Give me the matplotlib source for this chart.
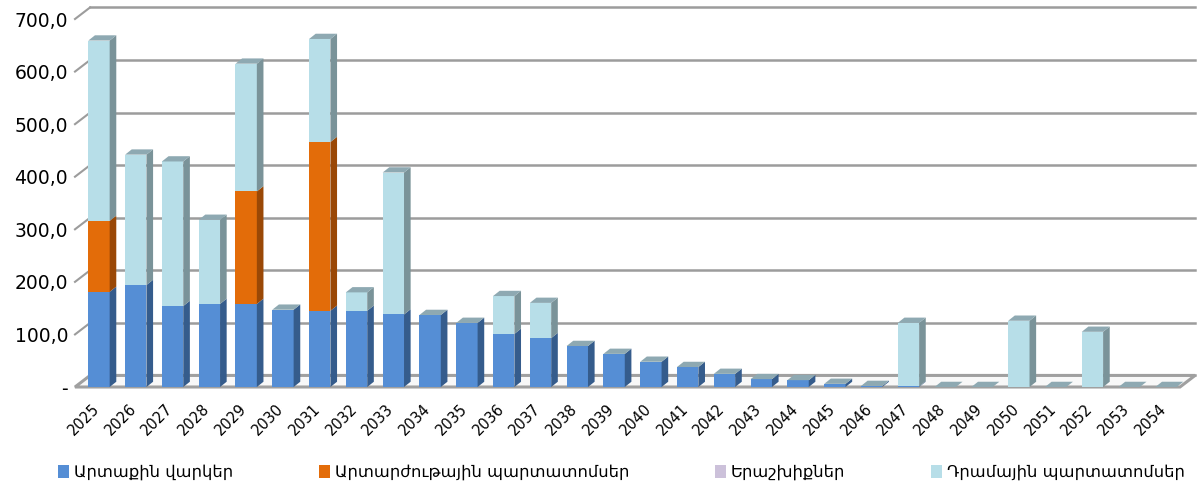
import numpy as np
import matplotlib.pyplot as plt
import matplotlib.transforms as mtransforms
from matplotlib.patches import Polygon, Patch

# Tvyalner (mln.) -- kardacvac nkaric
tariner = [str(t) for t in range(2025, 2055)]
artaqin_varker = [181, 194, 154, 158, 158, 147, 145, 145, 138, 137,
                  122, 101, 93, 78, 63, 48, 38, 25, 15, 13,
                  6, 2, 1, 0, 0, 0, 0, 0, 0, 0]
artarzhutayin = [135, 0, 0, 0, 214, 0, 321, 0, 0, 0,
                 0, 0, 0, 0, 0, 0, 0, 0, 0, 0,
                 0, 0, 0, 0, 0, 0, 0, 0, 0, 0]
erashkhiqner = [0] * 30
dramayin = [343, 248, 275, 160, 243, 0, 196, 35, 270, 0,
            0, 72, 67, 0, 0, 0, 0, 0, 0, 0,
            0, 0, 121, 0, 0, 126, 0, 105, 0, 0]

anunner = ["Արտաքին վարկեր", "Արտարժութային պարտատոմսեր",
           "Երաշխիքներ", "Դրամային պարտատոմսեր"]
shark = [artaqin_varker, artarzhutayin, erashkhiqner, dramayin]
guyn_dem = ["#558ED5", "#E36C09", "#CCC1DA", "#B7DEE8"]
guyn_kox = ["#355C8C", "#9A4806", "#8E86A0", "#7A9399"]
guyn_verev = "#8EA9B2"

plt.rcParams['font.family'] = ['DejaVu Sans']

fig = plt.figure(figsize=(12, 4.83), dpi=100)
ax = fig.add_axes([75 / 1200, 96 / 483, 1105 / 1200, 368 / 483])

x = np.arange(len(tariner))
w = 0.58
dx, dy = 0.18, 10          # syuneri khorutyun
wx, wy = 0.41, 22          # patic khorutyun
xmin, xmax = -0.652, 29.38
ax.set_xlim(xmin, xmax)
ax.set_ylim(0, 700)

# hetevi pat + dzakh ankyunagcer
for v in range(0, 701, 100):
    ax.plot([xmin + wx, xmax + wx], [v + wy, v + wy], color="#9C9C9C",
            lw=1.8, clip_on=False, zorder=1)
    if v > 0:
        ax.plot([xmin, xmin + wx], [v, v + wy], color="#9C9C9C",
                lw=1.5, clip_on=False, zorder=1)

# hatak
floor = Polygon([(xmin, 0), (xmax, 0), (xmax + wx, wy), (xmin + wx, wy)],
                closed=True, facecolor="#F8F8F8", edgecolor="#A0A0A0",
                lw=2.2, clip_on=False, zorder=1.5)
ax.add_patch(floor)

bottom = np.zeros(len(x))
for vals, fc, sc in zip(shark, guyn_dem, guyn_kox):
    vals = np.array(vals, dtype=float)
    ax.bar(x, vals, w, bottom=bottom, color=fc, zorder=3, clip_on=False)
    for xi, b, h in zip(x, bottom, vals):
        if h <= 0:
            continue
        r = xi + w / 2
        ax.add_patch(Polygon([(r, b), (r + dx, b + dy), (r + dx, b + h + dy), (r, b + h)],
                             closed=True, facecolor=sc, edgecolor="none",
                             zorder=3, clip_on=False))
    bottom = bottom + vals

# verevi nister
for xi, t in zip(x, bottom):
    l, r = xi - w / 2, xi + w / 2
    ax.add_patch(Polygon([(l, t), (r, t), (r + dx, t + dy), (l + dx, t + dy)],
                         closed=True, facecolor=guyn_verev, edgecolor="none",
                         zorder=3.5, clip_on=False))

for s in ax.spines.values():
    s.set_visible(False)

ax.set_yticks(range(0, 701, 100))
ax.set_yticklabels(["-"] + [f"{v},0" for v in range(100, 701, 100)], fontsize=13.5)
ax.tick_params(axis="y", length=0, pad=5)
ax.set_xticks(x)
ax.set_xticklabels(tariner, rotation=45, ha="right", va="center",
                   rotation_mode="anchor", fontsize=10.5)
ax.tick_params(axis="x", length=0, pad=14)
shift = mtransforms.ScaledTranslation(-2 / 100, 0, fig.dpi_scale_trans)
for lbl in ax.get_xticklabels():
    lbl.set_transform(lbl.get_transform() + shift)

handles = [Patch(facecolor=c, edgecolor="none") for c in guyn_dem]
fig.legend(handles, anunner, loc="lower left", bbox_to_anchor=(0.036, -0.025),
           ncol=4, frameon=False, fontsize=11.8, columnspacing=5.2,
           handlelength=0.7, handleheight=0.8, handletextpad=0.3)

fig.savefig("out.png", dpi=100)
